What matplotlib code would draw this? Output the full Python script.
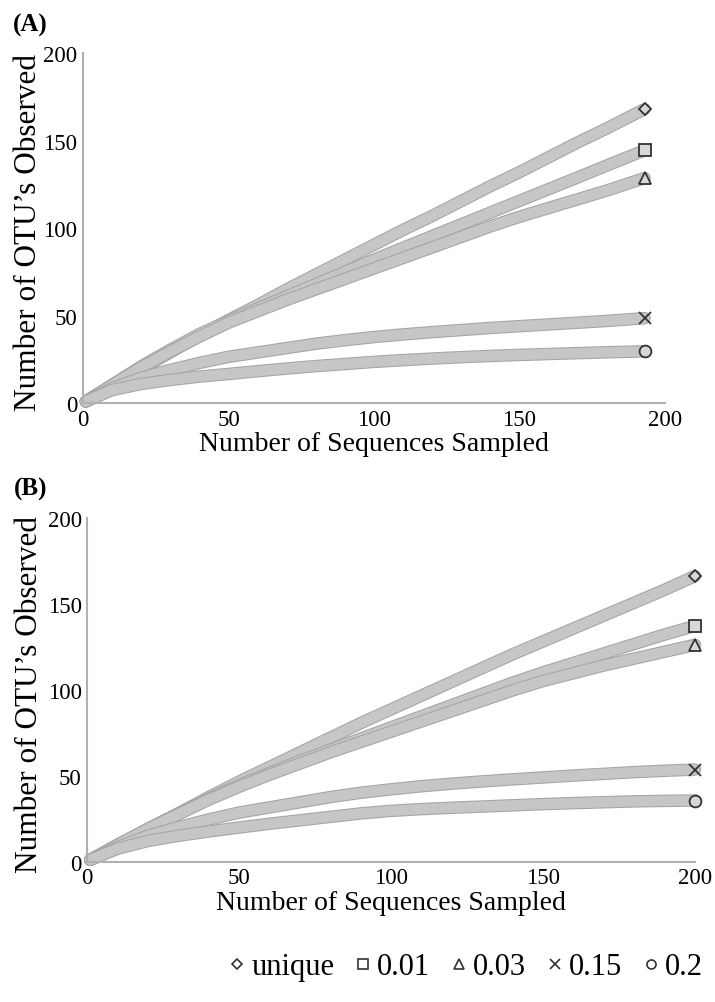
"""
Rarefaction curves for two samples (A) and (B): OTUs observed vs sequences sampled.
"""

import matplotlib
matplotlib.use('Agg')
import matplotlib.pyplot as plt
import matplotlib.patheffects as pe
from matplotlib.lines import Line2D

plt.rcParams['font.family'] = ['Liberation Serif', 'DejaVu Serif']

cutoffs = ["unique", "0.01", "0.03", "0.15", "0.2"]
markers = ["D", "s", "^", "x", "o"]

# ── Panel A (193 sequences) ──
seqs_a = [1, 10, 20, 30, 40, 50, 60, 70, 80, 90, 100,
          110, 120, 130, 140, 150, 160, 170, 180, 190, 193]
otus_a = {
    "unique": [1, 10, 19.5, 29, 38.5, 47.5, 56, 65, 73.5, 82, 90.5,
               99, 107, 115.5, 124, 132, 140.5, 149, 157, 165.5, 168],
    "0.01": [1, 10.5, 21, 30.5, 39.5, 47, 54, 61, 68, 75, 82,
             88.8, 95.5, 102.2, 108.9, 115.6, 122.3, 129, 135.8, 142.5, 144.6],
    "0.03": [1, 10.3, 20.5, 29.5, 38, 46, 52.5, 59, 65, 71, 77,
             83, 89, 95, 101, 106.5, 111.5, 116.5, 121.5, 127, 128.6],
    "0.15": [1, 8.5, 14.5, 19, 23, 26.5, 29, 31.5, 34, 36, 37.8,
             39.3, 40.6, 41.8, 43, 44, 45, 46, 47, 48.2, 48.6],
    "0.2": [1, 7.5, 11, 13.3, 15.2, 16.7, 18.3, 19.8, 21.2, 22.4, 23.6,
            24.6, 25.5, 26.3, 27, 27.6, 28.1, 28.6, 29.1, 29.5, 29.7],
}

# ── Panel B (200 sequences) ──
seqs_b = [1, 10, 20, 30, 40, 50, 60, 70, 80, 90, 100,
          110, 120, 130, 140, 150, 160, 170, 180, 190, 200]
otus_b = {
    "unique": [1, 9.6, 19, 28, 37.5, 46.5, 55, 63.5, 72, 80.5, 88.5,
               96.5, 104.5, 112.5, 120.5, 128, 135.5, 143, 150.5, 158, 166],
    "0.01": [1, 9.8, 19, 28, 36.5, 44.5, 51.5, 58.5, 65, 71.5, 78,
             84.5, 91, 97.5, 104, 110, 115.5, 121, 126.5, 132, 137],
    "0.03": [1, 9.8, 19, 27.5, 36, 43.5, 50.5, 57, 63.5, 69.5, 75.5,
             81.5, 87.5, 93.5, 99.5, 105, 109.5, 114, 118, 122, 126],
    "0.15": [1, 8.5, 15, 20, 24.5, 28.5, 31.5, 34.5, 37.5, 40, 42,
             43.8, 45.3, 46.6, 47.8, 48.9, 50, 51, 52, 52.8, 53.5],
    "0.2": [1, 7.5, 12, 15, 17.5, 19.8, 22, 24, 26, 28, 29.5,
            30.5, 31.3, 32, 32.7, 33.4, 34, 34.5, 35, 35.3, 35.5],
}

BAND = "#c6c6c6"
BAND_EDGE = "#a4a4a4"
AXIS = "#b0b0b0"


def draw_panel(ax, seqs, otus, tag, label_x):
    for name, mk in zip(cutoffs, markers):
        ys = otus[name]
        ax.plot(seqs, ys, color=BAND, linewidth=7.5, solid_capstyle='round', clip_on=False,
                path_effects=[pe.Stroke(linewidth=9, foreground=BAND_EDGE), pe.Normal()])
        ms = 6.5 if mk == "D" else 8.5
        ax.plot(seqs[-1], ys[-1], marker=mk, markersize=ms, markerfacecolor="#d8d8d8",
                markeredgecolor="#333333", markeredgewidth=1.3, color="#333333",
                linestyle="none", clip_on=False, zorder=5)
    ax.set_xlim(0, 200)
    ax.set_ylim(0, 200)
    ax.set_xticks([0, 50, 100, 150, 200])
    ax.set_yticks([0, 50, 100, 150, 200])
    ax.tick_params(length=0, labelsize=16.5, pad=4)
    for s in ("top", "right"):
        ax.spines[s].set_visible(False)
    for s in ("left", "bottom"):
        ax.spines[s].set_color(AXIS)
        ax.spines[s].set_linewidth(1.5)
    ax.set_xlabel("Number of Sequences Sampled", fontsize=20, labelpad=1)
    ax.set_ylabel("Number of OTU\u2019s Observed", fontsize=22.5)
    ax.yaxis.set_label_coords(label_x, 0.49)
    ax.text(-0.12, 1.05, tag, transform=ax.transAxes, fontsize=18, fontweight='bold',
            ha='left', va='bottom')


fig = plt.figure(figsize=(7.15, 10.03), dpi=100)
ax_a = fig.add_axes([0.116, 0.597, 0.814, 0.349])
ax_b = fig.add_axes([0.122, 0.140, 0.850, 0.343])

draw_panel(ax_a, seqs_a, otus_a, "(A)", -0.068)
draw_panel(ax_b, seqs_b, otus_b, "(B)", -0.071)

handles = [Line2D([], [], marker=mk, linestyle="none", markersize=5 if mk == "D" else 6.5,
                  markerfacecolor="white", markeredgecolor="#333333", markeredgewidth=1.2)
           for mk in markers]
fig.legend(handles, cutoffs, loc="center", bbox_to_anchor=(0.652, 0.035), ncol=5,
           frameon=False, fontsize=22, handlelength=0.5, handletextpad=0.2,
           columnspacing=0.7, borderaxespad=0)

plt.savefig("out.png", dpi=100)
plt.close()
